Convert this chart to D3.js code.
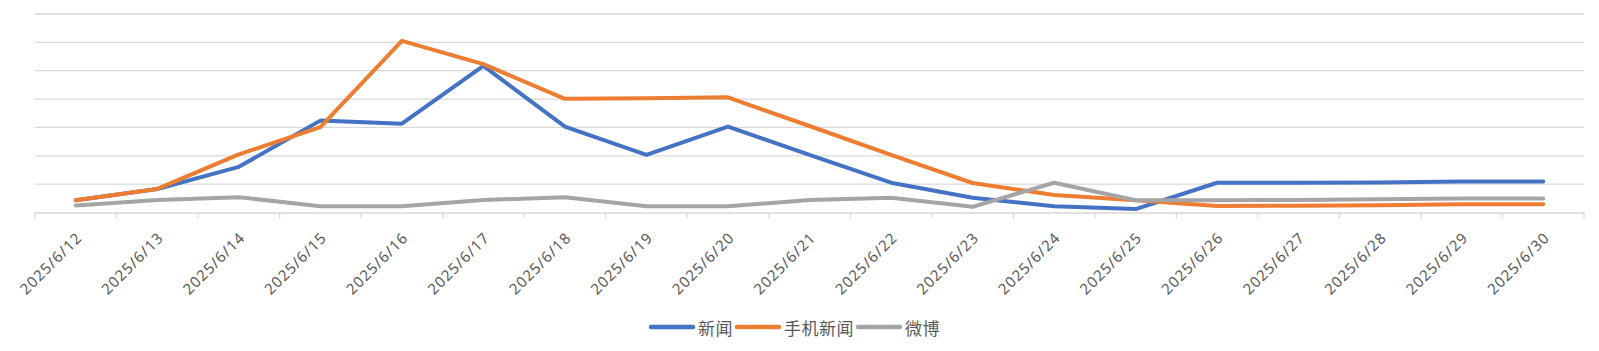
<!DOCTYPE html>
<html>
<head>
<meta charset="utf-8">
<script src="https://cdn.jsdelivr.net/npm/d3@7"></script>
<style>
  body { margin: 0; background: #fff; }
  svg { display: block; }
  .grid line { stroke: #d9d9d9; stroke-width: 1.3; }
  .x.axis path, .x.axis line { stroke: #d9d9d9; stroke-width: 1.3; }
  .x.axis text { font-family: "Noto Sans", sans-serif; font-size: 15px; fill: #595959; letter-spacing: 1px; }
  .legend text { font-family: "Noto Sans CJK SC", sans-serif; font-size: 17px; fill: #595959; letter-spacing: 0.5px; }
</style>
</head>
<body>
<div id="chart-area"></div>
<script>
// chart data
let dates = ["2025/6/12", "2025/6/13", "2025/6/14", "2025/6/15", "2025/6/16", "2025/6/17", "2025/6/18",
	"2025/6/19", "2025/6/20", "2025/6/21", "2025/6/22", "2025/6/23", "2025/6/24", "2025/6/25",
	"2025/6/26", "2025/6/27", "2025/6/28", "2025/6/29", "2025/6/30"];

let news = [4.3, 8.3, 16.1, 32.4, 31.3, 51.7, 30.3, 20.3, 30.3, 20.3, 10.5, 5.2, 2.2, 1.2, 10.5, 10.5, 10.6, 10.9, 10.9];
let mobileNews = [4.3, 8.3, 20.5, 30.1, 60.5, 52.3, 40.1, 40.3, 40.6, 30.5, 20.3, 10.4, 6.2, 4.3, 2.3, 2.4, 2.6, 2.9, 2.9];
let weibo = [2.5, 4.4, 5.4, 2.2, 2.2, 4.4, 5.4, 2.2, 2.2, 4.4, 5.2, 2.0, 10.5, 4.3, 4.3, 4.4, 4.7, 4.9, 4.9];

let seriesNames = ["新闻", "手机新闻", "微博"];
let seriesColors = ["#4472C4", "#ED7D31", "#A5A5A5"];
let yTicks = [0, 10, 20, 30, 40, 50, 60, 70];

let width = 1599, height = 351;
let margin = {top: 14, left: 35, right: 15, bottom: 138.5};

let svg = d3.select("#chart-area").append("svg")
	.attr("width", width)
	.attr("height", height);

// Scales
let xScale = d3.scaleBand().domain(dates).range([margin.left, width - margin.right]).padding(0);
let yScale = d3.scaleLinear().domain([0, 70]).range([height - margin.bottom, margin.top]);

// Gridlines
svg.append("g")
	.attr("class", "grid")
	.selectAll("line")
	.data(yTicks.slice(1))
	.join("line")
	.attr("x1", margin.left)
	.attr("x2", width - margin.right)
	.attr("y1", d => yScale(d))
	.attr("y2", d => yScale(d));

// X axis, ticks on category edges
let xAxis = d3.axisBottom(xScale).tickSize(0).tickSizeOuter(0).tickFormat("");
let xg = svg.append("g")
	.attr("class", "x axis")
	.attr("transform", "translate(0," + yScale(0) + ")")
	.call(xAxis);
xg.selectAll(".tick").remove();

let edges = dates.map(d => xScale(d)).concat([xScale.range()[1]]);
xg.selectAll(".edge")
	.data(edges)
	.join("line")
	.attr("class", "edge")
	.attr("x1", d => d).attr("x2", d => d)
	.attr("y1", 0).attr("y2", 6);

xg.selectAll(".lbl")
	.data(dates)
	.join("text")
	.attr("class", "lbl")
	.attr("text-anchor", "end")
	.attr("dominant-baseline", "central")
	.attr("transform", d => "translate(" + (xScale(d) + xScale.bandwidth() / 2 + 3) + ",22) rotate(-45)")
	.text(d => d);

// Lines
let allSeries = [news, mobileNews, weibo];
let line = d3.line()
	.x((d, i) => xScale(dates[i]) + xScale.bandwidth() / 2)
	.y(d => yScale(d));

svg.append("g")
	.selectAll("path")
	.data(allSeries)
	.join("path")
	.attr("fill", "none")
	.attr("stroke", (d, i) => seriesColors[i])
	.attr("stroke-width", 4)
	.attr("stroke-linejoin", "round")
	.attr("stroke-linecap", "round")
	.attr("d", d => line(d));

// Legend
let legend = svg.append("g").attr("class", "legend");
let lx = 651, ly = 327;
seriesNames.forEach((name, i) => {
	legend.append("line")
		.attr("x1", lx).attr("x2", lx + 42)
		.attr("y1", ly).attr("y2", ly)
		.attr("stroke", seriesColors[i])
		.attr("stroke-width", 4.5)
		.attr("stroke-linecap", "round");
	let t = legend.append("text")
		.attr("x", lx + 47)
		.attr("y", ly)
		.attr("dominant-baseline", "central")
		.text(name);
	lx = lx + 47 + t.node().getComputedTextLength() + 4;
});
</script>
</body>
</html>
